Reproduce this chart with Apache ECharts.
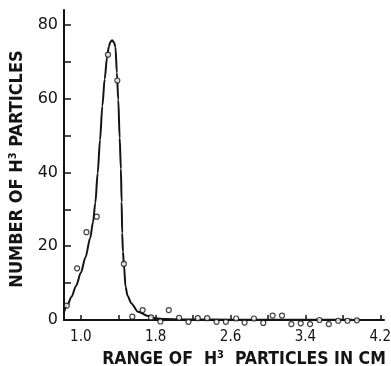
<!DOCTYPE html>
<html>
<head>
<meta charset="utf-8">
<script src="https://cdn.jsdelivr.net/npm/echarts@6.0.0/dist/echarts.min.js"></script>
<style>
  html, body { margin: 0; padding: 0; background: #fff; }
  #chart { width: 391px; height: 366px; }
</style>
</head>
<body>
<div id="chart"></div>
<script>
// fitted curve (range in cm, number of particles)
const curveX = [0.82, 0.86, 0.90, 0.95, 1.00, 1.05, 1.10, 1.13, 1.155, 1.18, 1.205, 1.23, 1.255, 1.28, 1.30, 1.315, 1.335, 1.355, 1.37, 1.385, 1.40, 1.415, 1.428, 1.436, 1.442, 1.45, 1.46, 1.478, 1.50, 1.54, 1.61, 1.72, 1.80, 1.90, 2.1, 2.6, 3.2, 3.9];
const curveY = [2.2, 4.2, 6.3, 9.3, 12.8, 17.0, 22.2, 26.5, 31.8, 39.8, 48.8, 58, 65.3, 71.2, 74.1, 75.3, 75.8, 75.2, 74, 67, 59.7, 49.4, 41, 32, 23.5, 18.5, 15.1, 9.0, 6.5, 4.5, 2.25, 1.1, 0.5, 0.25, 0.15, 0.1, 0.1, 0.1];

// measured counts (open circles)
const pointX = [0.85, 0.96, 1.06, 1.17, 1.29, 1.39, 1.46, 1.55, 1.66, 1.75, 1.85, 1.94, 2.05, 2.15, 2.25, 2.35, 2.45, 2.55, 2.66, 2.75, 2.85, 2.95, 3.05, 3.15, 3.25, 3.35, 3.45, 3.55, 3.65, 3.75, 3.85, 3.95];
const pointY = [3.9, 14.0, 23.8, 28.0, 71.9, 64.9, 15.2, 0.9, 2.7, 0.7, -0.4, 2.7, 0.6, -0.5, 0.5, 0.5, -0.5, -0.5, 0.4, -0.7, 0.4, -0.8, 1.2, 1.2, -1.1, -0.9, -1.1, 0, -1.1, -0.2, -0.2, -0.1];

// axis ticks and labels
const xTicks = [1.0, 1.4, 1.8, 2.2, 2.6, 3.0, 3.4, 3.8, 4.2];
const xLabels = [1.0, 1.8, 2.6, 3.4, 4.2];
const yTicks = [0, 10, 20, 30, 40, 50, 60, 70, 80];
const yLabels = [0, 20, 40, 60, 80];

const ink = '#141414';
const titleFont = '"Liberation Sans Narrow", "DejaVu Sans Condensed", "Liberation Sans", sans-serif';
const labelFont = '"DejaVu Sans", sans-serif';

const chart = echarts.init(document.getElementById('chart'), null, { renderer: 'canvas' });

const option = {
  animation: false,
  backgroundColor: '#fff',
  grid: { left: 64, right: 7, top: 10, bottom: 46, outerBoundsMode: 'none', containLabel: false },
  xAxis: {
    type: 'value',
    min: 0.82,
    max: 4.24,
    name: 'RANGE OF  H{sup|3}  PARTICLES IN CM',
    nameLocation: 'middle',
    nameGap: 24,
    nameTextStyle: {
      color: ink,
      fontFamily: titleFont,
      fontWeight: 'bold',
      fontSize: 17.5,
      padding: [0, 0, 0, 40],
      rich: {
        sup: { fontFamily: titleFont, fontWeight: 'bold', fontSize: 11, color: ink, padding: [0, 0, 9, 0] }
      }
    },
    axisLine: { show: true, lineStyle: { color: ink, width: 2 } },
    axisTick: { show: true, inside: true, length: 5, customValues: xTicks, lineStyle: { color: ink, width: 1.5 } },
    axisLabel: {
      customValues: xLabels,
      color: ink,
      fontFamily: titleFont,
      fontSize: 15,
      margin: 10,
      formatter: v => v.toFixed(1)
    },
    splitLine: { show: false }
  },
  yAxis: {
    type: 'value',
    min: 0,
    max: 84,
    name: 'NUMBER OF H{sup|3} PARTICLES',
    nameLocation: 'middle',
    nameGap: 30,
    nameTextStyle: {
      color: ink,
      fontFamily: titleFont,
      fontWeight: 'bold',
      fontSize: 18,
      padding: [0, 8, 0, 0],
      rich: {
        sup: { fontFamily: titleFont, fontWeight: 'bold', fontSize: 11, color: ink, padding: [0, 0, 9, 0] }
      }
    },
    axisLine: { show: true, lineStyle: { color: ink, width: 2 } },
    axisTick: { show: true, inside: true, length: 7, customValues: yTicks, lineStyle: { color: ink, width: 1.5 } },
    axisLabel: {
      customValues: yLabels,
      color: ink,
      fontFamily: labelFont,
      fontSize: 16,
      margin: 6
    },
    splitLine: { show: false }
  },
  series: [
    {
      name: 'fit',
      type: 'line',
      data: curveX.map((x, i) => [x, curveY[i]]),
      showSymbol: false,
      smooth: 0.3,
      smoothMonotone: 'x',
      lineStyle: { color: ink, width: 2 },
      z: 2
    },
    {
      name: 'counts',
      type: 'scatter',
      data: pointX.map((x, i) => [x, pointY[i]]),
      symbol: 'circle',
      symbolSize: 5,
      clip: false,
      itemStyle: { color: '#fff', borderColor: ink, borderWidth: 1.2 },
      z: 3
    }
  ]
};

chart.setOption(option);
</script>
</body>
</html>
